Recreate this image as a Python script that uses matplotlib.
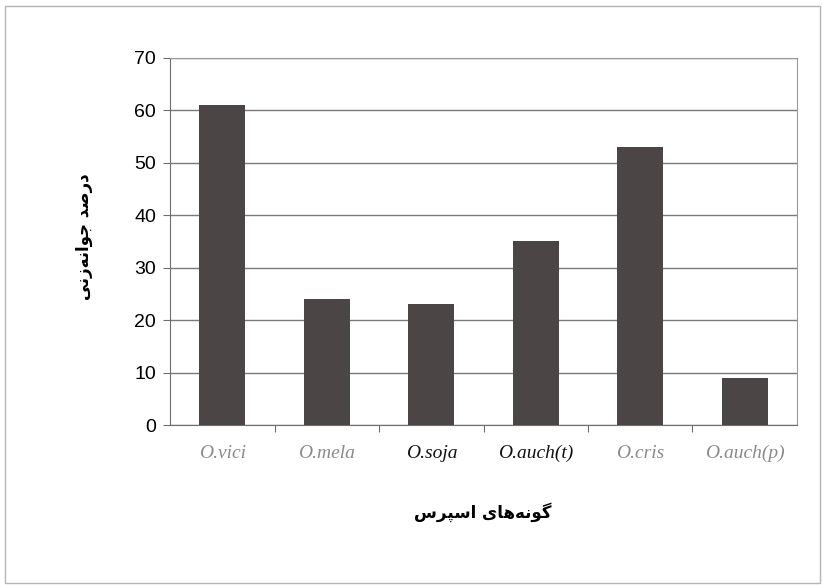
import matplotlib.pyplot as plt
from matplotlib.patches import Rectangle

# germination percentage per sainfoin species
species = ["O.vici", "O.mela", "O.soja", "O.auch(t)", "O.cris", "O.auch(p)"]
germination = [61, 24, 23, 35, 53, 9]
label_colors = ["#8a8a8a", "#8a8a8a", "#111111", "#111111", "#8a8a8a", "#8a8a8a"]

# Persian labels written in presentation forms, visual order (no shaping in matplotlib)
xlabel_fa = "\uFEB1\uFEAE\uFB59\uFEB3\uFE8D \uFBFC\uFE8E\uFEEB\uFEEA\uFEE7\uFEEE\uFB94"
ylabel_fa = "\uFBFD\uFEE7\uFEAF\uFEEA\uFEE7\uFE8D\uFEEE\uFE9F \uFEAA\uFEBB\uFEAD\uFEA9"

fig = plt.figure(figsize=(8.23, 5.85), dpi=100)
ax = fig.add_axes([0.2066, 0.2735, 0.7618, 0.6274])

x = range(len(species))
ax.bar(x, germination, width=0.44, color="#4b4545", zorder=3)

ax.set_xlim(-0.5, len(species) - 0.5)
ax.set_ylim(0, 70)
ax.set_yticks(range(0, 71, 10))
ax.yaxis.grid(True, color="#7a7a7a", linewidth=1.0, zorder=0)

for s in ["top", "right"]:
    ax.spines[s].set_color("#9a9a9a")
for s in ["left", "bottom"]:
    ax.spines[s].set_color("#6e6e6e")

ax.tick_params(axis="y", length=5, color="#6e6e6e", labelsize=14, pad=5)
for t in ax.get_yticklabels():
    t.set_fontfamily("Liberation Sans")

# category ticks sit between the bars
ax.set_xticks([i + 0.5 for i in range(len(species) - 1)], minor=False)
ax.set_xticklabels([])
ax.tick_params(axis="x", length=5, color="#6e6e6e")
for i, (name, c) in enumerate(zip(species, label_colors)):
    ax.text(i, -5.4, name, ha="center", va="center", fontsize=14,
            fontstyle="italic", family="Liberation Serif", color=c)

fig.text(0.586, 0.125, xlabel_fa, ha="center", va="center",
         fontsize=12, fontweight="bold", family="DejaVu Sans")
fig.text(0.102, 0.595, ylabel_fa, ha="center", va="center", rotation=90,
         fontsize=12, fontweight="bold", family="DejaVu Sans")

# thin frame around the whole chart
fig.patches.append(Rectangle((0.006, 0.004), 0.99, 0.985, transform=fig.transFigure,
                             fill=False, edgecolor="#b5b5b5", linewidth=1.0))

fig.savefig("out.png", dpi=100, facecolor="white")
